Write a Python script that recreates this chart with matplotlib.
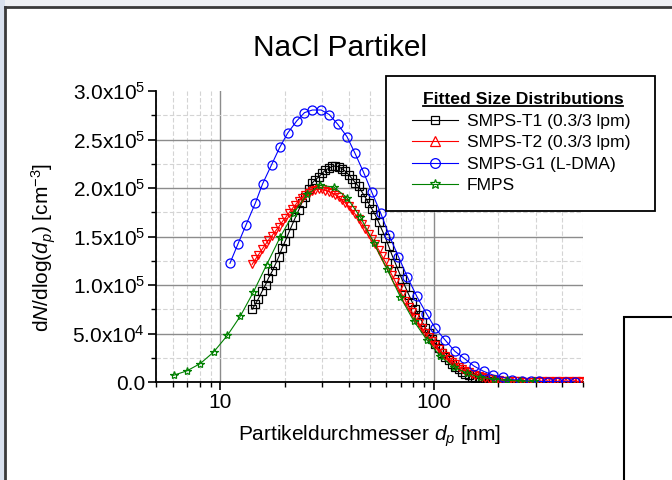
import matplotlib
matplotlib.use("Agg")
import matplotlib.pyplot as plt
from matplotlib.lines import Line2D
from matplotlib.patches import Rectangle
from matplotlib.ticker import FixedLocator, FuncFormatter, NullFormatter

plt.rcParams['font.family'] = ['Liberation Sans', 'DejaVu Sans']
plt.rcParams['mathtext.fontset'] = 'custom'
plt.rcParams['mathtext.rm'] = 'Liberation Sans'
plt.rcParams['mathtext.it'] = 'Liberation Sans:italic'
plt.rcParams['mathtext.bf'] = 'Liberation Sans:bold'

# SMPS Kanalmitten (64 Kanäle/Dekade) in nm
d_smps = [14.1, 14.6, 15.1, 15.7, 16.3, 16.8, 17.5, 18.1, 18.8, 19.5, 20.2, 20.9,
          21.7, 22.5, 23.3, 24.1, 25.0, 25.9, 26.9, 27.9, 28.9, 30.0, 31.1, 32.2,
          33.4, 34.6, 35.9, 37.2, 38.5, 40.0, 41.4, 42.9, 44.5, 46.1, 47.8, 49.6,
          51.4, 53.3, 55.2, 57.3, 59.4, 61.5, 63.8, 66.1, 68.5, 71.0, 73.7, 76.4,
          79.1, 82.0, 85.1, 88.2, 91.4, 94.7, 98.2, 101.8, 105.5, 109.4, 113.4, 117.6,
          121.9, 126.3, 131.0, 135.8, 140.7, 145.9, 151.2, 156.8, 162.5, 168.5, 174.7, 181.1,
          187.7, 194.6, 201.7, 209.1, 216.7, 224.7, 232.9, 241.4, 250.3, 259.5, 269.0, 278.8,
          289.0, 299.6, 310.6, 322.0, 333.8, 346.0, 358.7, 371.8, 385.4, 399.5, 414.2, 429.4,
          445.1, 461.4, 478.3, 495.8]

# SMPS-T1 (bis 194.6 nm)
n_t1 = [75000, 80300, 86000, 93500, 100400, 106900, 114100, 121100, 129100, 138400, 145800, 153500,
        162000, 169800, 177300, 184700, 190900, 198700, 204900, 208600, 211300, 215200, 218500, 220300,
        222200, 222700, 221900, 219800, 217200, 213600, 209700, 205400, 201600, 195900, 190200, 184200,
        178100, 171900, 164600, 156400, 148700, 139900, 130600, 122400, 114100, 105900, 97600, 89900,
        82700, 75500, 68800, 62100, 55900, 50200, 44500, 39400, 34700, 30100, 26000, 22400,
        18800, 15700, 13100, 10500, 8500, 6900, 5400, 4100, 3300, 2500, 1800, 1200,
        700, 500]

# SMPS-T2
n_t2 = [121300, 126500, 131100, 136800, 142000, 146100, 151000, 155400, 160000, 165200, 169500, 173900,
        178600, 182700, 186800, 190200, 193000, 195100, 197100, 198200, 198700, 198500, 197400, 196300,
        195000, 193000, 190400, 187500, 184800, 181100, 177000, 172900, 168300, 163100, 158000, 152800,
        147600, 142000, 136300, 129600, 123400, 116700, 110000, 103300, 96600, 90400, 83700, 77500,
        71900, 66200, 60500, 55400, 50700, 46100, 42000, 37800, 33700, 30100, 27000, 23900,
        20800, 18200, 15700, 13600, 11500, 10000, 8500, 6900, 5900, 4800, 4000, 3300,
        2800, 2300, 1800, 1400, 1100, 900, 800, 700, 600, 500, 500, 400,
        400, 700, 300, 800, 400, 900, 300, 700, 500, 900, 300, 800,
        500, 900, 400, 700]

# SMPS-G1 (L-DMA)
d_g1 = [11.1, 12.1, 13.2, 14.6, 15.8, 17.4, 19.0, 20.7, 22.8, 24.8, 27.0, 29.7,
        32.4, 35.5, 39.2, 42.7, 46.9, 51.2, 56.4, 61.8, 68.3, 75.2, 83.2, 92.4,
        101.4, 112.6, 125.5, 138.8, 154.1, 171.2, 189.2, 211.5, 233.2, 258.0, 284.3, 311.0,
        343.0, 378.0, 417.0, 457.0]
n_g1 = [122400, 142300, 161900, 184500, 204500, 224100, 242000, 256700, 269100, 277700, 280400, 280400,
        275700, 265700, 253000, 236100, 216200, 195900, 174200, 151200, 129300, 108300, 88400, 70500,
        55700, 43700, 31700, 24400, 16500, 11000, 7200, 4800, 2500, 1400, 1000, 600,
        400, 300, 200, 200]

# FMPS
d_fmps = [6.04, 6.98, 8.06, 9.31, 10.8, 12.4, 14.3, 16.5, 19.1, 22.1, 25.5, 29.4,
          34.0, 39.2, 45.3, 52.3, 60.4, 69.8, 80.6, 93.1, 107.5, 124.1, 143.3, 165.5,
          191.1, 220.7, 254.8, 294.3]
n_fmps = [6900, 11500, 19000, 30900, 48100, 67700, 92800, 121000, 149500, 174200, 193500, 202800,
          201000, 190100, 170100, 143700, 116500, 87600, 62900, 43000, 26500, 15200, 9000, 4800,
          2800, 1700, 1000, 700]

labels = ["SMPS-T1 (0.3/3 lpm)", "SMPS-T2 (0.3/3 lpm)", "SMPS-G1 (L-DMA)", "FMPS"]

fig = plt.figure(figsize=(6.72, 4.8), dpi=100)
fig.patch.set_facecolor("white")

# Folienrahmen
fig.add_artist(Rectangle((0, 1 - 7 / 480), 1, 7 / 480, transform=fig.transFigure,
                         facecolor="#eef0f4", edgecolor="none", zorder=0))
fig.add_artist(Rectangle((0, 0), 5 / 672, 1, transform=fig.transFigure,
                         facecolor="#d9e1ee", edgecolor="none", zorder=0))
fig.add_artist(Line2D([5 / 672, 1], [1 - 7 / 480, 1 - 7 / 480], transform=fig.transFigure,
                      color="#3a3a3a", lw=2))
fig.add_artist(Line2D([5 / 672, 5 / 672], [0, 1 - 7 / 480], transform=fig.transFigure,
                      color="#3a3a3a", lw=2))
# angeschnittene Box unten rechts
fig.add_artist(Rectangle((624 / 672, -0.1), 0.2, 0.1 + 1 - 317 / 480, transform=fig.transFigure,
                         facecolor="white", edgecolor="black", lw=1.5, zorder=1))

ax = fig.add_axes([156 / 672, 1 - 382 / 480, (583 - 156) / 672, (382 - 91) / 480])
ax.set_facecolor("none")

ax.plot(d_smps[:len(n_t1)], n_t1, color="black", lw=0.8, marker="s", ms=5.8, mfc="none",
        mec="black", mew=0.9, zorder=3)
ax.plot(d_smps[:len(n_t2)], n_t2, color="red", lw=0.8, marker="v", ms=6, mfc="none",
        mec="red", mew=0.9, zorder=4)
ax.plot(d_g1, n_g1, color="blue", lw=0.8, marker="o", ms=6.5, mfc="none",
        mec="blue", mew=0.9, zorder=5)
ax.plot(d_fmps, n_fmps, color="green", lw=0.8, marker="*", ms=6, mfc="none",
        mec="green", mew=0.9, zorder=6)

ax.set_xscale("log")
ax.set_xlim(5, 500)
ax.set_ylim(0, 3.0e5)

ax.xaxis.set_major_locator(FixedLocator([10, 100]))
ax.xaxis.set_minor_locator(FixedLocator([5, 6, 7, 8, 9, 20, 30, 40, 50, 60, 70, 80, 90,
                                         200, 300, 400, 500]))
ax.xaxis.set_major_formatter(FuncFormatter(lambda v, p: "%d" % v))
ax.xaxis.set_minor_formatter(NullFormatter())
ax.yaxis.set_major_locator(FixedLocator([0, 0.5e5, 1.0e5, 1.5e5, 2.0e5, 2.5e5, 3.0e5]))
ax.yaxis.set_minor_locator(FixedLocator([0.25e5, 0.75e5, 1.25e5, 1.75e5, 2.25e5, 2.75e5]))


def sci(v, pos):
    if v == 0:
        return "0.0"
    e = 5 if v >= 1e5 else 4
    return r"%.1fx10$^{%d}$" % (v / 10 ** e, e)


ax.yaxis.set_major_formatter(FuncFormatter(sci))

for s in ["top", "right"]:
    ax.spines[s].set_visible(False)
for s in ["left", "bottom"]:
    ax.spines[s].set_linewidth(1.3)

ax.tick_params(which="major", direction="out", length=6, width=1.2, labelsize=15, pad=2)
ax.tick_params(which="minor", direction="out", length=3.5, width=1.0)

ax.grid(which="major", color="#8c8c8c", lw=1.0, ls="-")
ax.grid(which="minor", color="#d4d4d4", lw=0.8, ls=(0, (4, 2)))
ax.set_axisbelow(True)
ax.yaxis.get_gridlines()[-1].set_visible(False)

ax.set_xlabel(r"Partikeldurchmesser $\mathit{d}_{\mathit{p}}$ [nm]", fontsize=15, labelpad=8)
ax.set_ylabel(r"d$\mathit{N}$/dlog($\mathit{d}_{\mathit{p}}$) [cm$^{-3}$]", fontsize=15)
ax.yaxis.set_label_coords(-0.23, 0.464)

fig.text(340.5 / 672, 1 - 48 / 480, "NaCl Partikel", ha="center", va="center", fontsize=21.5)

# Legende mit eigenem Rahmen
fig.add_artist(Rectangle((386 / 672, 1 - 211 / 480), (655 - 386) / 672, (211 - 76) / 480,
                         transform=fig.transFigure, facecolor="white", edgecolor="black",
                         lw=1.3, zorder=7))
ttl = fig.text(523 / 672, 1 - 99 / 480, "Fitted Size Distributions", ha="center", va="center",
               fontsize=12.6, fontweight="bold", zorder=9)
handles = [
    Line2D([], [], color="black", lw=0.8, marker="s", ms=6, mfc="none", mew=0.9),
    Line2D([], [], color="red", lw=0.8, marker="^", ms=7, mfc="none", mew=0.9),
    Line2D([], [], color="blue", lw=0.8, marker="o", ms=7, mfc="none", mew=0.9),
    Line2D([], [], color="green", lw=0.8, marker="*", ms=7, mfc="none", mew=0.9),
]
leg = fig.legend(handles, labels, loc="upper left", bbox_to_anchor=(412 / 672, 1 - 114 / 480),
                 frameon=False, fontsize=12.6, handlelength=2.6, handletextpad=0.55,
                 labelspacing=0.34, borderpad=0, borderaxespad=0)
leg.set_zorder(8)

fig.canvas.draw()
bb = ttl.get_window_extent().transformed(fig.transFigure.inverted())
fig.add_artist(Line2D([bb.x0, bb.x1], [bb.y0 + 0.001, bb.y0 + 0.001], transform=fig.transFigure,
                      color="black", lw=1.3, zorder=9))

fig.savefig("out.png", dpi=100)
